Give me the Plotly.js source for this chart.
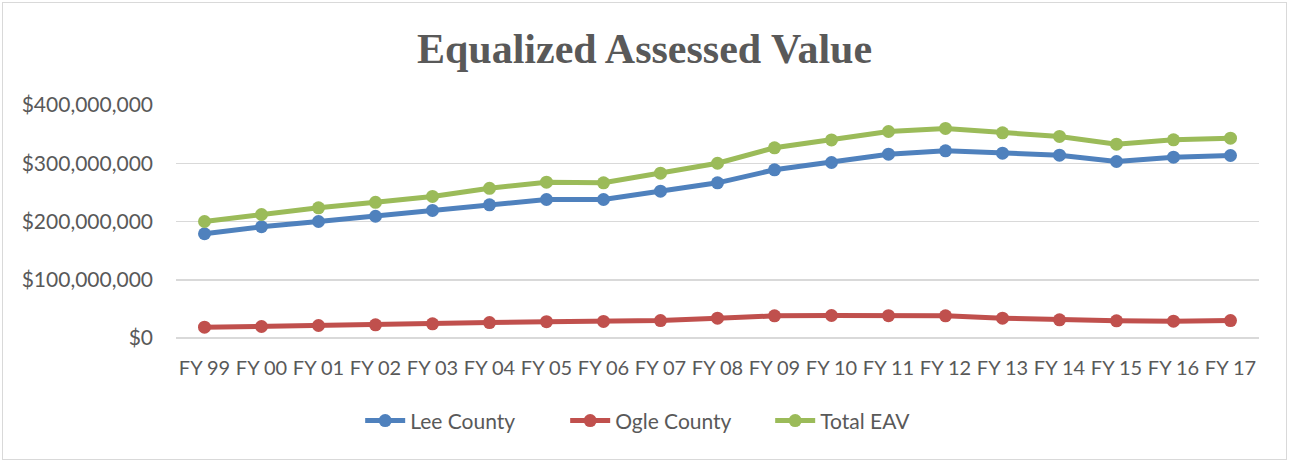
<!DOCTYPE html>
<html>
<head>
<meta charset="utf-8">
<script src="https://cdn.plot.ly/plotly-3.0.1.min.js"></script>
<style>
  html, body { margin: 0; padding: 0; background: #fff; }
  #wrap { position: relative; width: 1289px; height: 462px; }
  #chart { width: 1289px; height: 462px; }
  #frame { position: absolute; left: 2px; top: 2px; width: 1283px; height: 456px; border: 1px solid #d9d9d9; pointer-events: none; }
</style>
</head>
<body>
<div id="wrap"><div id="chart"></div><div id="frame"></div></div>
<script>
const categories = ["FY 99","FY 00","FY 01","FY 02","FY 03","FY 04","FY 05","FY 06","FY 07","FY 08","FY 09","FY 10","FY 11","FY 12","FY 13","FY 14","FY 15","FY 16","FY 17"];
// values in millions of dollars
const leeCounty  = [179, 191, 200, 209, 219, 228.7, 237.8, 237.8, 252, 266.4, 288.7, 301.3, 315.5, 321.4, 317.3, 313.8, 303, 310.4, 313.3];
const ogleCounty = [18.5, 19.7, 21.5, 22.6, 24.4, 26.5, 28, 28.5, 30, 34, 38, 38.6, 38.4, 38, 34, 31.2, 29.5, 28.8, 30];
const totalEAV   = [200, 212, 223.5, 233, 243, 257, 267.5, 266.4, 283, 300, 326.5, 340, 354.5, 359.7, 352.3, 346, 332.7, 340.2, 343];
const yTickVals  = [0, 100, 200, 300, 400];
const yTickText  = ["$0", "$100,000,000", "$200,000,000", "$300,000,000", "$400,000,000"];

const toDollars = a => a.map(v => v * 1e6);

function series(name, vals, color) {
  return {
    type: 'scatter', mode: 'lines+markers', name: name,
    x: categories, y: toDollars(vals),
    line: { color: color, width: 5 },
    marker: { color: color, size: 13 },
    cliponaxis: false
  };
}

const data = [
  series('Lee County', leeCounty, '#4F81BD'),
  series('Ogle County', ogleCounty, '#C0504D'),
  series('Total EAV', totalEAV, '#9BBB59')
];

const layout = {
  width: 1289, height: 462,
  margin: { l: 176, r: 30, t: 105, b: 124, autoexpand: false },
  paper_bgcolor: '#ffffff', plot_bgcolor: '#ffffff',
  title: {
    text: '<b>Equalized Assessed Value</b>',
    font: { family: '"Liberation Serif", "Times New Roman", serif', size: 42, color: '#595959' },
    x: 0.5, xanchor: 'center', xref: 'container',
    y: 1 - 48/462, yanchor: 'middle', yref: 'container'
  },
  showlegend: true,
  legend: {
    orientation: 'h', x: 0.454, xanchor: 'center', y: -0.356, yanchor: 'middle',
    font: { family: 'Lato, "Open Sans", sans-serif', size: 21, color: '#595959' },
    itemwidth: 40, tracegroupgap: 0, entrywidth: 150, entrywidthmode: 'pixels'
  },
  xaxis: {
    type: 'category',
    range: [-0.5, 18.5],
    showgrid: false, zeroline: false, tickangle: 0,
    showline: false, ticks: '', ticklabelstandoff: 16,
    tickfont: { family: 'Lato, "Open Sans", sans-serif', size: 20, color: '#595959' },
    fixedrange: true
  },
  yaxis: {
    range: [0, 400e6],
    tickvals: toDollars(yTickVals), ticktext: yTickText,
    showgrid: true, gridcolor: '#d9d9d9', gridwidth: 1.5,
    zeroline: true, zerolinecolor: '#d9d9d9', zerolinewidth: 1.5,
    showline: false, ticks: '', ticklabelstandoff: 22,
    tickfont: { family: 'Lato, "Open Sans", sans-serif', size: 21, color: '#595959' },
    fixedrange: true
  },
  font: { family: 'Lato, sans-serif', color: '#595959' }
};

Plotly.newPlot('chart', data, layout, { displayModeBar: false, staticPlot: true });
</script>
</body>
</html>
